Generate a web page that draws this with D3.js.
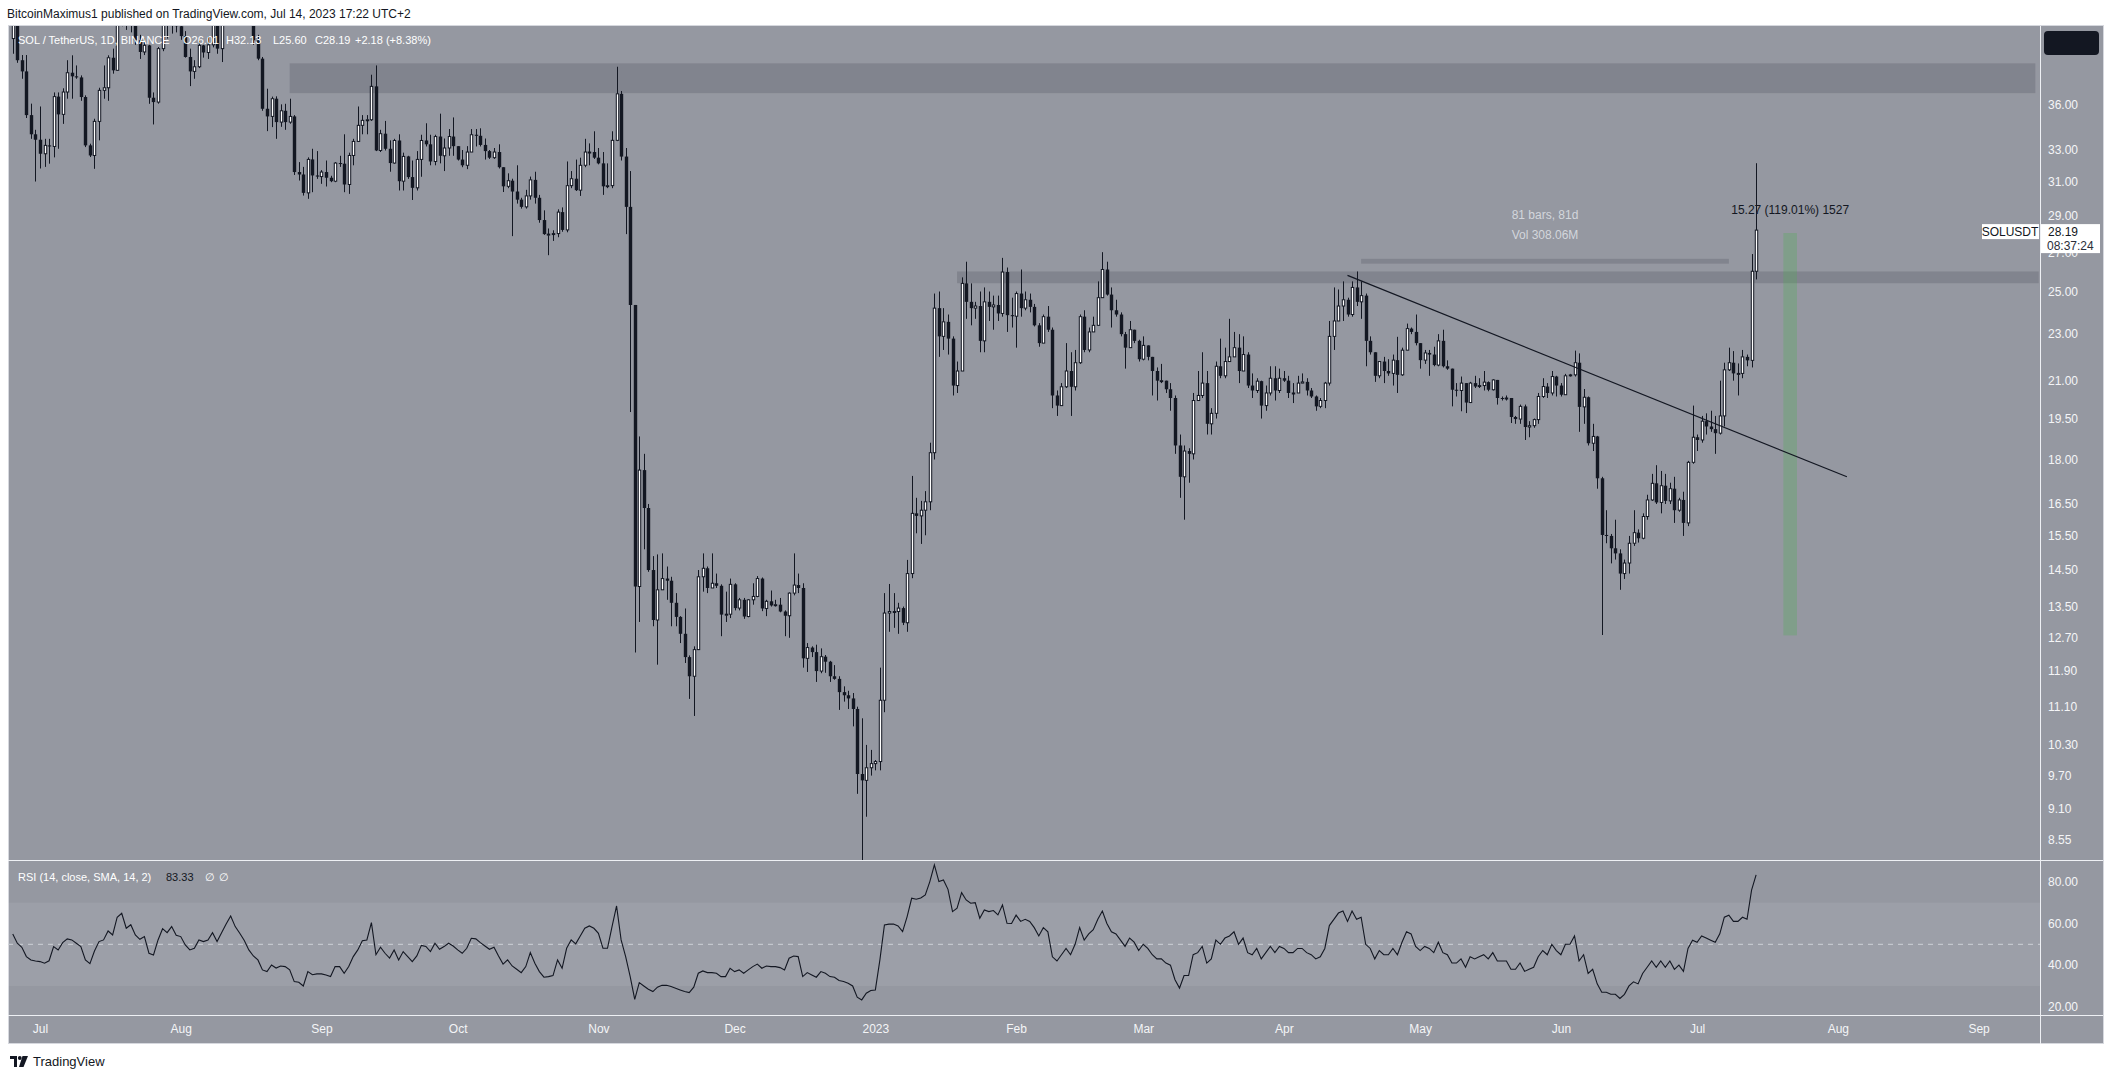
<!DOCTYPE html>
<html><head><meta charset="utf-8">
<script src="https://cdn.jsdelivr.net/npm/d3@7"></script>
<style>
html,body{margin:0;padding:0;background:#ffffff;}
svg{display:block;}
text{font-family:"Liberation Sans", Arial, sans-serif;}
</style>
</head><body>
<svg id="chart" width="2114" height="1079"></svg>
<script>
// ---------------- data ----------------
const startDate = "2022-06-25T00:00:00Z";   // first daily candle
const firstOpen = 41.0;
// Binance daily candles: each open equals the previous close
const closes = [
42.5,39.3,38.45,35.3,34.0,33.64,32.73,33.27,33.2,36.6,
35.35,36.93,38.35,38.08,38.0,36.57,33.27,32.62,34.87,37.05,
37.24,39.49,38.53,42.8,44.2,42.6,43.0,40.86,39.94,40.46,
36.52,36.21,40.2,42.6,43.2,42.4,42.0,41.2,39.55,38.45,
38.8,40.46,39.9,40.5,42.8,40.2,42.5,43.6,44.4,46.5,
45.2,43.5,43.3,40.86,39.42,35.74,35.21,36.45,34.82,35.6,
34.82,35.21,31.58,31.43,30.32,32.37,31.37,31.3,31.58,31.23,
31.02,32.14,32.1,30.82,32.62,33.53,34.6,34.94,34.98,37.34,
32.94,34.04,33.05,32.14,33.59,31.02,32.56,31.27,30.62,32.37,
33.59,33.34,32.24,33.85,32.6,33.1,33.85,33.22,32.36,32.0,
32.84,33.97,33.9,33.3,32.9,32.48,32.84,31.88,30.71,31.05,
30.4,29.92,29.5,30.14,31.1,30.03,28.75,27.97,27.97,28.0,
29.2,28.2,30.75,31.17,30.48,32.0,32.84,32.84,32.48,32.12,
30.71,30.75,33.6,36.8,32.55,29.5,24.35,14.04,17.63,16.37,
14.5,13.15,13.95,14.26,14.2,13.6,13.23,12.8,12.23,11.78,
12.41,14.31,14.55,14.0,14.13,14.06,13.29,13.3,14.1,13.46,
13.68,13.24,13.68,13.77,14.26,13.45,13.64,13.53,13.55,13.37,
13.26,13.86,14.08,14.0,12.2,12.46,12.35,11.9,12.24,12.12,
11.78,11.72,11.42,11.35,11.28,11.05,9.73,9.61,9.85,9.93,
9.97,11.24,13.33,13.37,13.37,13.46,13.08,14.4,16.2,16.12,
16.3,16.57,18.24,24.2,22.9,23.56,22.8,20.8,21.4,25.4,
24.5,24.2,24.3,22.7,24.5,24.26,24.35,23.95,25.97,23.87,
23.82,24.9,24.2,24.6,24.26,23.4,22.6,23.8,23.2,20.4,
20.0,20.75,21.4,20.75,21.75,23.8,22.3,23.1,23.4,24.7,
26.1,24.85,24.1,23.9,23.0,22.4,23.2,22.7,21.9,22.5,
22.0,21.4,21.0,21.0,20.65,20.3,18.5,17.4,18.3,18.2,
20.2,20.4,20.9,19.3,19.7,21.6,21.2,21.8,22.0,22.4,
21.4,22.1,20.8,20.6,20.98,20.0,20.5,21.1,20.6,21.1,
21.0,20.5,20.5,20.9,20.95,20.6,20.36,19.97,20.2,20.9,
22.9,23.6,24.3,24.6,23.9,25.2,24.5,24.8,22.7,22.2,
21.2,21.8,21.4,21.3,21.86,21.24,22.29,23.25,23.1,22.6,
21.86,22.17,22.1,21.65,22.7,21.6,21.5,20.63,20.6,20.9,
20.12,20.9,20.76,20.8,20.94,20.63,21.03,20.3,20.26,20.3,
19.56,19.48,19.97,19.18,19.23,19.46,20.36,20.76,20.5,21.17,
20.8,20.43,21.2,21.24,21.75,19.95,20.33,18.58,18.83,17.35,
15.53,15.5,15.13,14.98,14.4,14.7,15.28,15.6,15.43,16.1,
16.63,17.18,16.55,17.1,16.6,17.0,16.3,16.63,15.9,17.9,
18.8,18.7,19.4,19.2,19.1,18.95,19.6,21.45,21.75,21.3,
21.3,22.0,21.85,26.01,28.19];
const highs = [
43.5,42.6,39.7,39.7,36.1,34.3,35.9,33.7,33.7,36.9,
36.9,37.2,39.3,39.68,38.9,38.15,36.69,33.38,35.05,37.24,
38.9,39.68,40.2,44.5,45.0,45.5,43.8,43.9,41.3,41.0,
40.5,36.9,40.33,43.5,44.5,44.4,43.0,42.5,41.6,40.2,
39.3,40.9,40.5,41.2,43.5,42.9,42.8,45.0,45.0,48.2,
47.5,46.3,44.3,44.0,41.3,39.55,37.17,36.6,36.62,36.05,
36.09,36.45,35.3,32.2,31.9,32.5,33.05,32.9,31.7,32.3,
31.35,32.2,32.6,34.0,32.8,33.7,35.9,35.3,35.3,38.2,
38.9,34.3,34.9,33.6,33.7,34.0,32.8,32.6,32.3,32.9,
33.97,34.74,33.97,33.97,35.4,33.72,34.35,35.14,33.22,32.97,
33.22,34.35,34.35,34.4,33.72,32.97,33.1,33.34,31.88,31.5,
31.17,32.0,30.03,30.5,31.3,31.6,30.2,29.3,28.28,28.18,
29.36,29.47,32.24,31.64,32.36,32.48,33.7,33.4,34.2,33.1,
32.84,32.12,34.2,38.8,37.0,33.1,31.64,24.35,18.83,18.2,
16.5,14.9,14.95,14.98,14.6,14.31,13.86,13.25,13.45,12.27,
12.49,14.5,14.98,14.6,14.98,14.4,14.1,13.9,14.26,14.13,
13.73,13.73,13.7,14.13,14.33,14.29,13.68,13.93,13.68,13.73,
13.4,13.88,14.98,14.4,14.13,12.57,12.49,12.53,12.44,12.28,
12.14,12.04,11.78,11.55,11.45,11.4,11.1,10.85,10.3,10.2,
10.0,11.98,13.86,14.11,13.86,13.6,13.5,14.79,17.43,16.7,
16.6,16.92,18.6,24.9,25.0,24.2,23.9,22.9,21.8,25.7,
26.5,25.4,24.5,25.0,25.2,25.0,24.8,24.8,26.7,26.2,
24.7,25.0,26.1,25.0,24.9,24.4,23.5,23.9,24.3,23.3,
20.6,20.9,22.6,22.2,22.3,23.9,24.1,23.3,23.8,25.5,
27.0,26.5,25.2,24.6,24.0,23.1,23.6,23.2,22.75,22.9,
22.5,22.0,21.55,21.7,21.0,20.9,20.4,18.9,18.5,18.4,
20.5,21.4,22.2,21.4,19.9,21.8,22.8,22.4,23.7,23.1,
23.0,22.9,22.2,21.3,21.1,21.0,20.8,21.6,21.6,21.5,
21.4,21.2,20.9,21.2,21.3,21.1,20.7,20.4,20.3,20.95,
23.6,25.2,25.1,25.5,24.7,25.5,26.0,25.5,24.9,22.9,
22.2,21.8,22.0,21.9,22.1,22.88,22.4,23.48,23.3,23.9,
22.6,22.3,22.3,22.44,23.0,23.2,21.85,21.5,20.9,21.17,
20.9,20.95,21.2,21.1,21.4,20.97,21.06,21.03,20.36,20.4,
20.3,19.6,20.04,20.04,19.4,19.5,20.5,21.1,20.9,21.4,
21.2,20.9,21.28,21.28,22.27,22.15,20.66,20.36,19.3,18.85,
17.4,16.3,15.56,16.0,15.1,14.8,15.5,16.3,15.7,16.2,
16.8,17.5,17.8,17.6,17.5,17.2,17.4,16.7,16.9,17.95,
20.0,18.9,19.6,19.7,19.8,19.6,21.0,21.75,22.4,22.25,
21.72,22.3,22.1,26.9,32.13];
const lows = [
39.8,39.1,37.9,35.1,33.7,31.0,31.8,31.9,32.1,32.5,
33.05,34.7,36.45,36.45,37.9,36.3,33.16,32.52,31.78,33.6,
36.45,36.3,38.28,38.5,42.0,41.7,41.5,40.5,39.4,39.7,
36.09,34.66,36.1,40.0,41.0,41.4,41.5,40.9,39.5,37.36,
37.9,38.7,39.5,39.4,40.3,39.8,39.16,42.3,42.8,44.0,
44.5,42.8,42.5,40.5,39.3,35.6,34.21,34.48,33.7,34.5,
34.3,34.71,31.4,31.06,30.16,29.97,30.36,31.16,30.86,30.7,
30.96,30.96,31.9,30.36,30.26,32.0,33.5,34.0,34.0,34.9,
32.9,32.84,32.94,31.6,32.1,30.46,30.46,31.16,29.9,30.46,
31.29,33.2,32.0,32.0,32.12,31.64,32.6,32.6,32.3,31.88,
31.76,32.84,33.2,33.2,32.36,32.4,32.4,31.8,30.37,30.6,
27.86,29.69,29.4,29.4,29.92,29.69,28.6,27.93,26.84,27.6,
27.8,28.1,28.07,30.6,30.43,30.14,31.88,32.0,32.4,32.06,
30.2,30.6,30.6,33.55,32.3,27.97,19.75,12.34,13.1,15.1,
14.45,12.99,12.05,13.95,13.68,12.99,12.99,12.57,12.09,11.27,
10.9,12.4,13.9,13.86,14.0,14.0,12.74,13.1,13.2,13.4,
13.4,13.18,13.22,13.55,13.75,13.38,13.25,13.5,13.5,13.35,
12.74,12.7,13.8,13.86,11.98,11.88,12.23,11.65,11.85,11.86,
11.65,11.7,11.03,11.21,11.05,10.68,9.36,8.0,8.95,9.7,
9.8,9.8,10.98,12.85,12.95,12.8,13.02,12.85,14.27,15.58,
15.26,15.52,16.3,18.0,22.0,22.3,22.1,20.4,20.5,21.4,
23.7,23.4,23.7,22.2,22.2,23.6,23.2,23.6,23.8,23.1,
23.3,22.4,23.8,24.1,24.0,23.35,22.44,22.6,23.1,19.9,
19.6,20.0,20.7,19.6,20.6,21.7,22.2,22.2,23.1,23.4,
24.7,24.8,23.3,23.8,22.9,21.5,22.4,22.6,21.8,21.85,
21.85,20.4,20.2,20.9,20.5,19.8,18.2,16.7,16.0,17.2,
18.0,20.2,20.3,18.9,18.9,19.5,21.1,21.1,21.8,22.0,
20.9,21.4,20.7,20.3,20.5,19.5,19.8,20.4,20.2,20.5,
20.95,20.3,20.1,20.5,20.9,20.4,20.3,19.8,19.9,19.9,
20.8,22.3,23.6,23.6,23.8,23.8,24.3,23.7,21.6,22.1,
20.95,21.1,20.9,21.2,20.8,20.5,21.2,22.29,23.0,22.5,
21.5,21.7,21.2,21.6,21.6,21.55,21.45,19.97,20.36,19.78,
19.71,20.1,20.7,20.7,20.6,20.57,20.6,20.04,20.2,20.2,
19.33,19.3,19.3,18.7,18.8,19.15,19.3,20.3,20.3,20.4,
20.36,20.36,20.43,21.17,21.17,19.0,19.3,18.5,18.3,17.0,
12.77,15.28,14.69,14.8,13.95,14.25,14.4,15.2,15.3,15.4,
16.0,16.6,16.5,16.2,16.5,16.5,15.9,16.25,15.5,15.8,
17.85,18.3,18.6,18.9,19.0,18.2,18.9,19.2,21.4,21.0,
20.4,21.1,21.6,21.55,25.6];
const rsiValues = [
54.9,50.5,48.6,44.1,42.5,42.0,41.7,40.9,42.1,48.9,
47.3,50.8,52.6,52.1,50.5,48.9,42.5,40.7,46.8,51.3,
52.1,56.4,54.5,63.0,64.9,57.7,59.4,54.5,52.4,53.7,
45.7,44.9,52.1,57.5,55.6,58.5,54.3,53.7,49.7,47.3,
48.1,52.1,51.3,52.1,55.6,51.3,55.6,59.7,63.6,58.5,
55.3,51.8,47.3,44.4,42.5,37.7,36.9,40.1,38.6,39.6,
39.3,37.7,32.1,31.8,30.0,36.9,35.4,35.8,35.8,35.3,
34.5,39.3,39.3,36.1,39.3,44.1,47.3,51.7,52.1,60.4,
45.0,48.6,45.7,43.4,47.3,42.5,46.5,44.1,41.7,44.4,
49.5,49.0,46.5,50.5,47.6,48.9,50.5,49.2,47.3,45.7,
48.1,52.9,52.6,50.8,49.2,47.6,48.6,44.4,40.5,42.5,
39.6,38.0,36.4,39.3,46.0,40.9,36.9,34.2,34.5,35.0,
42.5,38.5,48.1,52.1,50.2,54.0,57.7,58.8,57.7,55.3,
48.1,48.1,58.5,68.4,52.1,44.1,34.5,23.6,31.6,30.0,
28.4,27.3,29.4,30.3,30.3,29.7,28.9,28.1,27.3,26.8,
29.4,36.1,37.2,36.4,36.4,36.1,34.5,34.5,38.5,36.9,
37.7,36.1,37.7,39.3,40.5,38.5,39.6,39.3,39.3,38.8,
37.7,43.3,44.4,44.1,34.5,36.4,35.3,34.2,36.9,36.1,
34.5,34.2,32.6,32.1,31.3,30.0,24.6,23.3,26.5,27.8,
28.1,42.5,59.3,59.7,59.7,58.8,56.1,63.3,72.1,71.6,
72.2,73.7,80.1,88.1,80.1,80.9,76.4,65.7,67.3,74.8,
71.3,69.7,70.0,62.5,66.5,65.7,66.2,64.1,68.9,60.1,
60,64,61,62,61,58,54,58,56,44,
42,45,48,45,50,58,52,55,57,62,
66,60,56,55,52,49,53,51,47,50,
48,45,43,43,41,40,33,29,35,35,
45,46,49,41,43,52,50,53,54,56,
50,53,46,45,48,43,46,49,46,49,
48,46,46,48,48,46,45,43,44,48,
59,62,65,66,61,66,62,63,50,48,
43,47,45,45,48,45,51,56,55,49,
47,49,48,46,51,46,45,41,41,43,
39,44,43,44,45,43,46,42,42,42,
38,38,41,37,38,39,44,47,45,50,
47,45,50,50,54,42,45,36,38,31,
27,27,26,26,24,26,30,32,31,36,
39,42,39,42,39,42,38,40,37,48,
52,51,54,53,52,51,55,63,64,61,
61,63,62,76,83.33];

const priceTicks = [36, 33, 31, 29, 27, 25, 23, 21, 19.5, 18, 16.5, 15.5, 14.5, 13.5, 12.7, 11.9, 11.1, 10.3, 9.7, 9.1, 8.55];
const rsiTicks = [80, 60, 40, 20];
const monthTicks = ["2022-07-01","2022-08-01","2022-09-01","2022-10-01","2022-11-01","2022-12-01",
  "2023-01-01","2023-02-01","2023-03-01","2023-04-01","2023-05-01","2023-06-01","2023-07-01","2023-08-01","2023-09-01"];
const zones = [
  {from: "2022-08-25T00:00:00Z", to: "2023-09-13T12:00:00Z", lo: 36.85, hi: 39.06},
  {from: "2023-01-19T00:00:00Z", to: "2023-09-14T06:00:00Z", lo: 25.41, hi: 26.0}
];
const trendLine = [{date: "2023-04-15T00:00:00Z", price: 25.8}, {date: "2023-08-03T00:00:00Z", price: 17.4}];
const dateRange = {from: "2023-04-18T00:00:00Z", to: "2023-07-08T00:00:00Z", lo: 26.4, hi: 26.65, label1: "81 bars, 81d", label2: "Vol 308.06M"};
const priceRange = {from: "2023-07-20T00:00:00Z", to: "2023-07-23T00:00:00Z", lo: 12.76, hi: 28.03, label: "15.27 (119.01%) 1527"};
const lastPrice = 28.19, countdown = "08:37:24", symbol = "SOLUSDT";
const headerText = "BitcoinMaximus1 published on TradingView.com, Jul 14, 2023 17:22 UTC+2";
const legendParts = ["SOL / TetherUS, 1D, BINANCE", "O26.01", "H32.13", "L25.60", "C28.19", "+2.18 (+8.38%)"];
const rsiLegend = ["RSI (14, close, SMA, 14, 2)", "83.33", "∅", "∅"];

// ---------------- layout ----------------
const L = 8, R = 2040, AX_R = 2103;
const TOP = 26, MAIN_B = 860, RSI_B = 1015, TIME_B = 1044;
const BG = "#9598a1", INK = "#131722", LINE = "#eef0f4";

const svg = d3.select("#chart");
const P = s => new Date(s.length === 10 ? s + "T00:00:00Z" : s);
const dates = closes.map((c, i) => d3.utcDay.offset(P(startDate), i));
const opens = closes.map((c, i) => i === 0 ? firstOpen : closes[i - 1]);

const x = d3.scaleUtc().domain([P("2022-06-23T22:51:00Z"), P("2023-09-14T12:45:00Z")]).range([L, R]);
const y = d3.scaleLog().domain([8.224, 42.02]).range([MAIN_B, TOP]);
const yR = d3.scaleLinear().domain([16.06, 90.47]).range([RSI_B, MAIN_B]);

const defs = svg.append("defs");
defs.append("clipPath").attr("id", "clipMain").append("rect").attr("x", L).attr("y", TOP).attr("width", R - L).attr("height", MAIN_B - TOP);
defs.append("clipPath").attr("id", "clipRsi").append("rect").attr("x", L).attr("y", MAIN_B).attr("width", R - L).attr("height", RSI_B - MAIN_B);

// header
svg.append("text").attr("x", 7).attr("y", 18).attr("font-size", 12).attr("fill", INK).text(headerText);

// frame
svg.append("rect").attr("x", L + 0.5).attr("y", TOP - 0.5).attr("width", AX_R - L).attr("height", TIME_B - TOP)
  .attr("fill", BG).attr("stroke", "#d6d8de").attr("stroke-width", 1);

// RSI band
svg.append("rect").attr("x", L).attr("width", R - L)
  .attr("y", yR(70)).attr("height", yR(30) - yR(70)).attr("fill", "rgba(255,255,255,0.075)");
svg.append("line").attr("x1", L).attr("x2", R).attr("y1", yR(50)).attr("y2", yR(50))
  .attr("stroke", "#cdd0d6").attr("stroke-dasharray", "5,5").attr("stroke-width", 1);

// main pane content
const main = svg.append("g").attr("clip-path", "url(#clipMain)");
main.selectAll("rect.zone").data(zones).join("rect").attr("class", "zone")
  .attr("x", d => x(P(d.from))).attr("width", d => x(P(d.to)) - x(P(d.from)))
  .attr("y", d => y(d.hi)).attr("height", d => y(d.lo) - y(d.hi))
  .attr("fill", "rgba(19,23,34,0.15)");

// date range bar
main.append("rect").attr("x", x(P(dateRange.from))).attr("width", x(P(dateRange.to)) - x(P(dateRange.from)))
  .attr("y", y(dateRange.hi)).attr("height", y(dateRange.lo) - y(dateRange.hi)).attr("fill", "rgba(19,23,34,0.15)");
const drMid = (x(P(dateRange.from)) + x(P(dateRange.to))) / 2;
main.append("text").attr("x", drMid).attr("y", y(dateRange.hi) - 40).attr("text-anchor", "middle")
  .attr("font-size", 12).attr("fill", "#d3d6dc").text(dateRange.label1);
main.append("text").attr("x", drMid).attr("y", y(dateRange.hi) - 20).attr("text-anchor", "middle")
  .attr("font-size", 12).attr("fill", "#d3d6dc").text(dateRange.label2);

// price range (green)
main.append("rect").attr("x", x(P(priceRange.from))).attr("width", x(P(priceRange.to)) - x(P(priceRange.from)))
  .attr("y", y(priceRange.hi)).attr("height", y(priceRange.lo) - y(priceRange.hi))
  .attr("fill", "rgba(76,175,80,0.28)");

// candles
const candles = dates.map((d, i) => ({d, o: opens[i], h: highs[i], l: lows[i], c: closes[i]}));
const cg = main.append("g");
cg.selectAll("line.wick").data(candles).join("line").attr("class", "wick")
  .attr("x1", d => Math.round(x(d.d)) + 0.5).attr("x2", d => Math.round(x(d.d)) + 0.5)
  .attr("y1", d => y(d.h)).attr("y2", d => y(d.l)).attr("stroke", INK).attr("stroke-width", 1);
cg.selectAll("rect.body").data(candles).join("rect").attr("class", "body")
  .attr("x", d => d.c >= d.o ? Math.round(x(d.d)) - 0.7 : Math.round(x(d.d)) - 1.2)
  .attr("width", d => d.c >= d.o ? 2.4 : 3.4)
  .attr("y", d => y(Math.max(d.o, d.c)))
  .attr("height", d => Math.max(1, Math.abs(y(d.o) - y(d.c))))
  .attr("fill", d => d.c >= d.o ? "#ffffff" : INK)
  .attr("stroke", d => d.c >= d.o ? INK : "none").attr("stroke-width", 1);

// trend line
main.append("path").datum(trendLine)
  .attr("d", d3.line().x(d => x(P(d.date))).y(d => y(d.price)))
  .attr("stroke", INK).attr("stroke-width", 1.2).attr("fill", "none");

main.append("text").attr("x", (x(P(priceRange.from)) + x(P(priceRange.to))) / 2).attr("y", y(priceRange.hi) - 19)
  .attr("text-anchor", "middle").attr("font-size", 12).attr("fill", INK).text(priceRange.label);

// legend
const lg = svg.append("text").attr("y", 44).attr("font-size", 11).attr("fill", "#ffffff");
const legendX = [18, 183, 226, 273, 315, 355];
legendParts.forEach((t, i) => lg.append("tspan").attr("x", legendX[i]).text(t));

// RSI line
const rg = svg.append("g").attr("clip-path", "url(#clipRsi)");
rg.append("path").datum(rsiValues)
  .attr("d", d3.line().x((d, i) => x(dates[i])).y(d => yR(d)))
  .attr("fill", "none").attr("stroke", INK).attr("stroke-width", 1.1);
const rl = svg.append("text").attr("y", 881).attr("font-size", 11);
rl.append("tspan").attr("x", 18).attr("fill", "#ffffff").text(rsiLegend[0]);
rl.append("tspan").attr("x", 166).attr("fill", INK).text(rsiLegend[1]);
rl.append("tspan").attr("x", 205).attr("fill", "#ffffff").text(rsiLegend[2]);
rl.append("tspan").attr("x", 219).attr("fill", "#ffffff").text(rsiLegend[3]);

// separators
svg.append("line").attr("x1", R + 0.5).attr("x2", R + 0.5).attr("y1", TOP).attr("y2", TIME_B).attr("stroke", LINE);
svg.append("line").attr("x1", L).attr("x2", AX_R).attr("y1", MAIN_B + 0.5).attr("y2", MAIN_B + 0.5).attr("stroke", LINE);
svg.append("line").attr("x1", L).attr("x2", AX_R).attr("y1", RSI_B + 0.5).attr("y2", RSI_B + 0.5).attr("stroke", LINE);

// axes
const styleAxis = g => { g.select(".domain").remove(); g.selectAll("text").attr("fill", "#f4f5f7").attr("font-size", 12).attr("font-family", "Liberation Sans, Arial, sans-serif"); };
svg.append("g").attr("transform", `translate(${R},0)`)
  .call(d3.axisRight(y).tickValues(priceTicks).tickFormat(d3.format(".2f")).tickSize(0).tickPadding(8)).call(styleAxis);
svg.append("g").attr("transform", `translate(${R},0)`)
  .call(d3.axisRight(yR).tickValues(rsiTicks).tickFormat(d3.format(".2f")).tickSize(0).tickPadding(8)).call(styleAxis);
svg.append("g").attr("transform", `translate(0,${RSI_B})`)
  .call(d3.axisBottom(x).tickValues(monthTicks.map(P))
    .tickFormat(d => d.getUTCMonth() === 0 ? d3.utcFormat("%Y")(d) : d3.utcFormat("%b")(d)).tickSize(0).tickPadding(9))
  .call(styleAxis);

// last price labels
const yl = y(lastPrice);
svg.append("rect").attr("x", 1982).attr("y", yl - 6).attr("width", 57).attr("height", 15).attr("fill", "#ffffff");
svg.append("text").attr("x", 2010).attr("y", yl + 5.5).attr("text-anchor", "middle").attr("font-size", 12).attr("fill", INK).text(symbol);
svg.append("rect").attr("x", R + 1).attr("y", yl - 6).attr("width", 59).attr("height", 29).attr("fill", "#ffffff");
svg.append("text").attr("x", 2048).attr("y", yl + 5.5).attr("font-size", 12).attr("fill", INK).text(d3.format(".2f")(lastPrice));
svg.append("text").attr("x", 2047).attr("y", yl + 19.5).attr("font-size", 12).attr("fill", "#2a2e39").text(countdown);

// top-right button
svg.append("rect").attr("x", 2044).attr("y", 31).attr("width", 55).attr("height", 24).attr("rx", 4).attr("fill", INK);

// footer logo
const logo = svg.append("g").attr("fill", INK);
logo.append("path").attr("d", "M10,1056 H17 V1067 H14 V1059 H10 Z");
logo.append("circle").attr("cx", 19.8).attr("cy", 1058).attr("r", 1.9);
logo.append("path").attr("d", "M22.5,1056 H28 L23.5,1067 H19 Z");
svg.append("text").attr("x", 33).attr("y", 1066).attr("font-size", 13).attr("fill", INK).text("TradingView");
</script>
</body></html>
